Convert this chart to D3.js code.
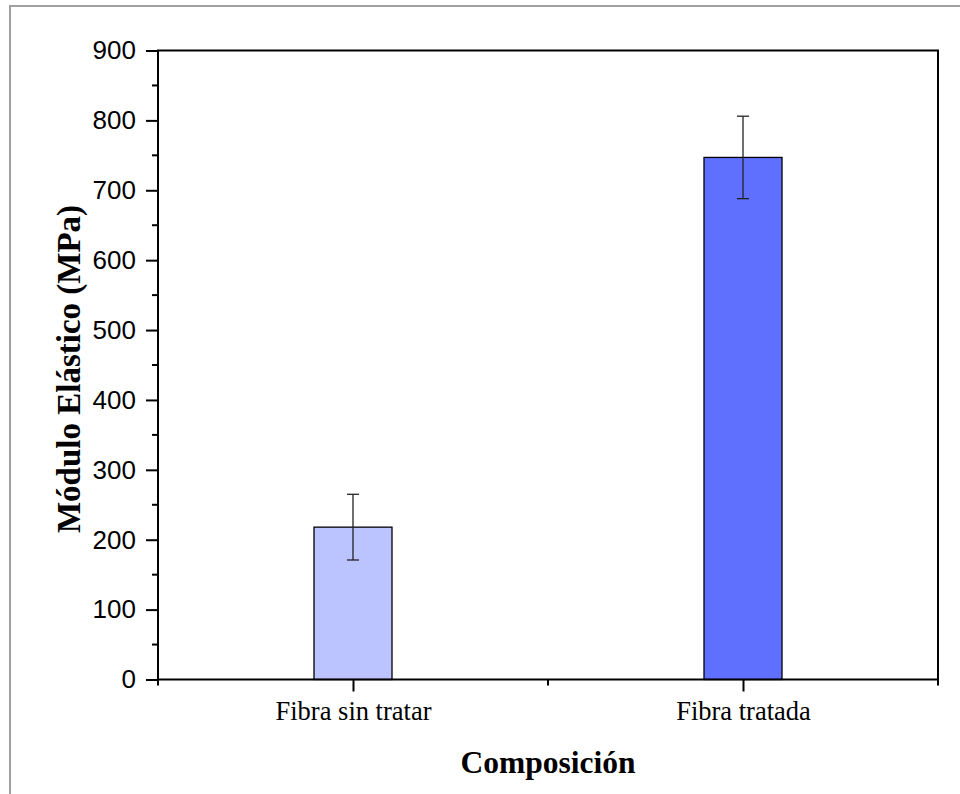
<!DOCTYPE html>
<html><head><meta charset="utf-8">
<script src="https://cdn.jsdelivr.net/npm/d3@7"></script>
<style>body{margin:0;background:#fff}svg{display:block}</style>
</head><body>
<svg id="c" width="960" height="794"></svg>
<script>
const categories = ["Fibra sin tratar", "Fibra tratada"];
const values = [218, 747];
const errors = [47, 59];
const colors = ["#BBC4FF", "#5F70FF"];
const yTicks = [0, 100, 200, 300, 400, 500, 600, 700, 800, 900];
const yLabel = "Módulo Elástico (MPa)";
const xLabel = "Composición";

const svg = d3.select("#c");
const L = 158, R = 938, T = 50.5, B = 679.5;
const x = d3.scaleLinear().domain([0.5, 2.5]).range([L, R]);
const y = d3.scaleLinear().domain([0, 900]).range([B, T]);
const barW = (x(2) - x(1)) * 0.2;

// outer frame
svg.append("rect").attr("x", 10).attr("y", 6).attr("width", 1000).attr("height", 1000)
  .attr("fill", "none").attr("stroke", "#a0a0a0").attr("stroke-width", 2);

// bars
const data = categories.map((c, i) => ({c, i, v: values[i], e: errors[i]}));
svg.selectAll("rect.bar").data(data).join("rect").attr("class", "bar")
  .attr("x", d => x(d.i + 1) - barW / 2).attr("width", barW)
  .attr("y", d => y(d.v)).attr("height", d => y(0) - y(d.v))
  .attr("fill", (d, i) => colors[i]).attr("stroke", "#000").attr("stroke-width", 1.3);

// error bars
const eg = svg.selectAll("g.err").data(data).join("g").attr("class", "err")
  .attr("stroke", "#222").attr("stroke-width", 1.3);
eg.append("line").attr("x1", d => x(d.i + 1)).attr("x2", d => x(d.i + 1))
  .attr("y1", d => y(d.v + d.e)).attr("y2", d => y(d.v - d.e));
eg.append("line").attr("x1", d => x(d.i + 1) - 6).attr("x2", d => x(d.i + 1) + 6)
  .attr("y1", d => y(d.v + d.e)).attr("y2", d => y(d.v + d.e));
eg.append("line").attr("x1", d => x(d.i + 1) - 6).attr("x2", d => x(d.i + 1) + 6)
  .attr("y1", d => y(d.v - d.e)).attr("y2", d => y(d.v - d.e));

// y axis
const yAxis = d3.axisLeft(y).tickValues(yTicks).tickSize(12).tickPadding(10).tickFormat(d3.format("d"));
const gy = svg.append("g").attr("transform", `translate(${L},0)`).call(yAxis);
gy.select(".domain").remove();
gy.selectAll(".tick line").attr("stroke", "#000").attr("stroke-width", 2);
gy.selectAll(".tick text").attr("font-family", "Liberation Sans, Arial, sans-serif")
  .attr("font-size", 26).attr("fill", "#000");
// y minor ticks
const yMinor = yTicks.slice(0, -1).map(v => v + 50);
svg.append("g").selectAll("line").data(yMinor).join("line")
  .attr("x1", L - 6).attr("x2", L).attr("y1", d => y(d)).attr("y2", d => y(d))
  .attr("stroke", "#000").attr("stroke-width", 2);

// x axis
const xAxis = d3.axisBottom(x).tickValues([1, 2]).tickSize(12).tickPadding(10)
  .tickFormat(d => categories[d - 1]);
const gx = svg.append("g").attr("transform", `translate(0,${B})`).call(xAxis);
gx.select(".domain").remove();
gx.selectAll(".tick line").attr("stroke", "#000").attr("stroke-width", 2);
gx.selectAll(".tick text").attr("font-family", "Liberation Serif, Times New Roman, serif")
  .attr("font-size", 26.5).attr("fill", "#000").attr("dy", "0.7em");
svg.append("g").selectAll("line").data([0.5, 1.5, 2.5]).join("line")
  .attr("x1", d => x(d)).attr("x2", d => x(d)).attr("y1", B).attr("y2", B + 6)
  .attr("stroke", "#000").attr("stroke-width", 2);

// frame lines
svg.append("rect").attr("x", L).attr("y", T).attr("width", R - L).attr("height", B - T)
  .attr("fill", "none").attr("stroke", "#000").attr("stroke-width", 2);

// axis titles
svg.append("text").attr("x", (L + R) / 2).attr("y", 773).attr("text-anchor", "middle")
  .attr("font-family", "Liberation Serif, Times New Roman, serif").attr("font-weight", "bold")
  .attr("font-size", 31.5).text(xLabel);
svg.append("text").attr("transform", `translate(80,${(T + B) / 2 + 4}) rotate(-90)`)
  .attr("text-anchor", "middle")
  .attr("font-family", "Liberation Serif, Times New Roman, serif").attr("font-weight", "bold")
  .attr("font-size", 33).text(yLabel);
</script>
</body></html>
